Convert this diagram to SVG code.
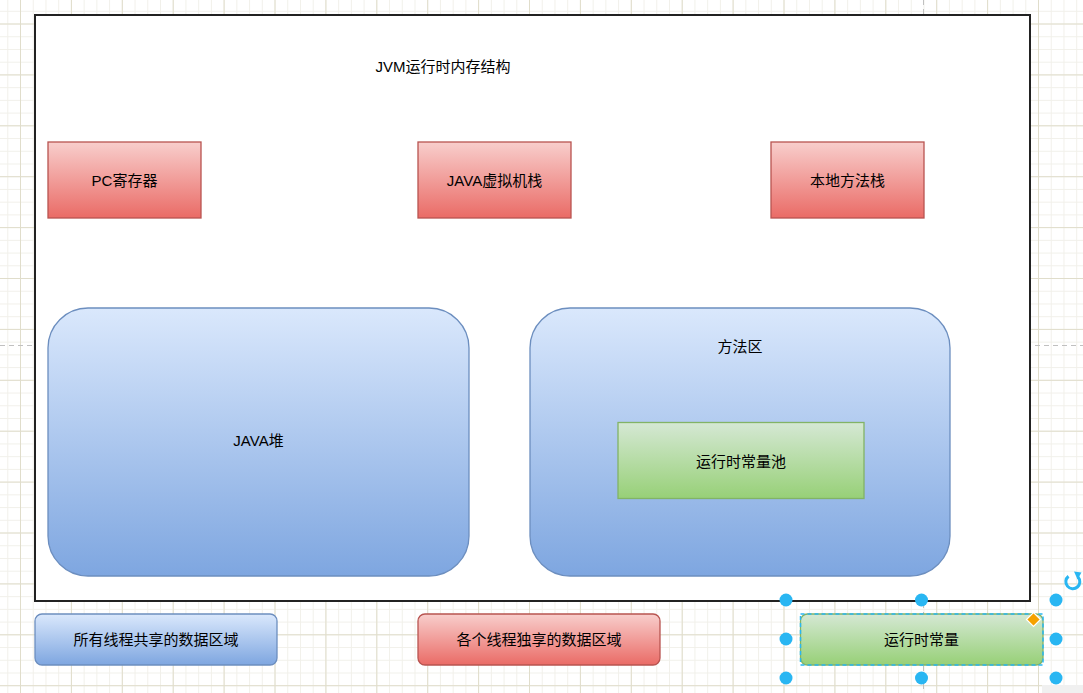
<svg xmlns="http://www.w3.org/2000/svg" width="1083" height="693" viewBox="0 0 1083 693">
<style>
text{font-family:"Liberation Sans","Noto Sans CJK SC",sans-serif;font-size:15px;fill:#000;text-anchor:middle;dominant-baseline:central}
.red{fill:url(#gRed);stroke:#b85450;stroke-width:1.3}
.blue{fill:url(#gBlue);stroke:#6c8ebf;stroke-width:1.3}
.green{fill:url(#gGreen);stroke:#82b366;stroke-width:1.3}
.handle{fill:#29b6f2}
</style>
<defs>
<linearGradient id="gRed" x1="0" y1="0" x2="0" y2="1"><stop offset="0" stop-color="#f8cecc"/><stop offset="1" stop-color="#ea6b66"/></linearGradient>
<linearGradient id="gBlue" x1="0" y1="0" x2="0" y2="1"><stop offset="0" stop-color="#dae8fc"/><stop offset="1" stop-color="#7ea6e0"/></linearGradient>
<linearGradient id="gGreen" x1="0" y1="0" x2="0" y2="1"><stop offset="0" stop-color="#d5e8d4"/><stop offset="1" stop-color="#97d077"/></linearGradient>
<pattern id="minor" patternUnits="userSpaceOnUse" x="7.3" y="10.8" width="12.725" height="12.725">
<path d="M0.5 0V12.725M0 0.5H12.725" stroke="#f1f0ea" stroke-width="1" fill="none"/>
</pattern>
<pattern id="major" patternUnits="userSpaceOnUse" x="20" y="23.5" width="50.9" height="50.9">
<path d="M0.5 0V50.9M0 0.5H50.9" stroke="#e0ddcb" stroke-width="1" fill="none"/>
</pattern>
</defs>
<g id="background">
<rect width="1083" height="693" fill="#ffffff"/>
<rect width="1083" height="693" fill="url(#minor)"/>
<rect width="1083" height="693" fill="url(#major)"/>
<path d="M0 345.5H1083M923.5 0V693" stroke="#c0c0c0" stroke-width="1" stroke-dasharray="5 4" fill="none"/>
<rect x="1042" y="685" width="41" height="8" fill="#f0f0f0"/>
</g>
<g id="connectors"></g>
<g id="container">
<rect x="35" y="15" width="995" height="586" fill="#ffffff" stroke="#222222" stroke-width="2"/>
<text x="443" y="66">JVM运行时内存结构</text>
</g>
<g id="pc">
<rect class="red" x="48" y="142" width="153" height="76"/>
<text x="124.5" y="180">PC寄存器</text>
</g>
<g id="jvmstack">
<rect class="red" x="418" y="142" width="153" height="76"/>
<text x="494.5" y="180">JAVA虚拟机栈</text>
</g>
<g id="nativestack">
<rect class="red" x="771" y="142" width="153" height="76"/>
<text x="847.5" y="180">本地方法栈</text>
</g>
<g id="heap">
<rect class="blue" x="48" y="308" width="421" height="268" rx="40" ry="40"/>
<text x="258.5" y="440">JAVA堆</text>
</g>
<g id="methodarea">
<rect class="blue" x="530" y="308" width="420" height="268" rx="40" ry="40"/>
<text x="740" y="346">方法区</text>
</g>
<g id="constpool">
<rect class="green" x="618" y="422.5" width="246" height="76"/>
<text x="741" y="461">运行时常量池</text>
</g>
<g id="legend-shared">
<rect class="blue" x="35" y="614" width="242" height="51" rx="7" ry="7"/>
<text x="156" y="639">所有线程共享的数据区域</text>
</g>
<g id="legend-private">
<rect class="red" x="418" y="614" width="242" height="51" rx="7" ry="7"/>
<text x="539" y="639">各个线程独享的数据区域</text>
</g>
<g id="legend-const">
<rect class="green" x="800.5" y="614" width="242.5" height="51" rx="7" ry="7"/>
<text x="921.5" y="639">运行时常量</text>
</g>
<g id="selection">
<rect x="800.5" y="614" width="242.5" height="51" fill="none" stroke="#29b6f2" stroke-width="1.5" stroke-dasharray="4 3"/>
<circle class="handle" cx="786" cy="600" r="6.5"/>
<circle class="handle" cx="921.5" cy="600" r="6.5"/>
<circle class="handle" cx="1056" cy="600" r="6.5"/>
<circle class="handle" cx="786" cy="639" r="6.5"/>
<circle class="handle" cx="1056" cy="639" r="6.5"/>
<circle class="handle" cx="786" cy="678" r="6.5"/>
<circle class="handle" cx="921.5" cy="678" r="6.5"/>
<circle class="handle" cx="1056" cy="678" r="6.5"/>
<path d="M1033.5 612.5L1040.5 619.5L1033.5 626.5L1026.5 619.5Z" fill="#f5a100" stroke="#ffffff" stroke-width="1.2"/>
<path d="M1078 577A7 7 0 1 1 1068.5 576.2" fill="none" stroke="#29b6f2" stroke-width="3"/>
<path d="M1074 571.5L1081.5 572.5L1077.5 579.5Z" fill="#29b6f2"/>
</g>
</svg>
